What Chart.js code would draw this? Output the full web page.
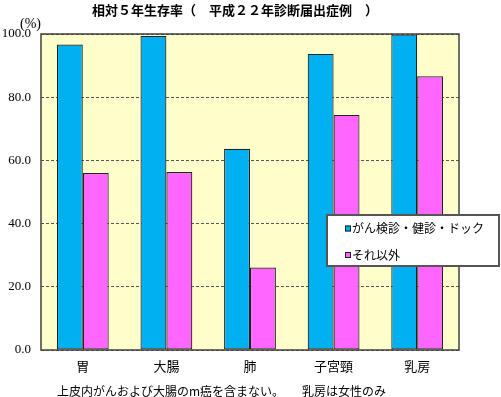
<!DOCTYPE html>
<html>
<head>
<meta charset="utf-8">
<script src="https://cdn.jsdelivr.net/npm/chart.js@4/dist/chart.umd.min.js"></script>
<style>
html,body{margin:0;padding:0;background:#fff;}
#wrap{width:501px;height:397px;position:relative;}
</style>
</head>
<body>
<div id="wrap"><canvas id="c" width="501" height="397"></canvas></div>
<script>
const categories = ['胃', '大腸', '肺', '子宮頸', '乳房'];
const screened = [96.7, 99.4, 63.7, 93.7, 99.8];
const others = [56.0, 56.3, 26.1, 74.4, 86.6];
const seriesNames = ['がん検診・健診・ドック', 'それ以外'];
const yTicks = [0, 20, 40, 60, 80, 100];
const titleText = '相対５年生存率（　平成２２年診断届出症例　）';
const noteText = '上皮内がんおよび大腸のm癌を含まない。　　乳房は女性のみ';
const unitText = '(%)';

const JP = '"Noto Sans CJK JP", "Noto Sans", sans-serif';
const SERIF = '"Liberation Serif", "DejaVu Serif", serif';

const decor = {
  id: 'decor',
  beforeDraw(chart) {
    const {ctx, chartArea: a} = chart;
    ctx.save();
    ctx.fillStyle = '#FFFFCC';
    ctx.fillRect(a.left, a.top, a.right - a.left, a.bottom - a.top);
    ctx.restore();
  },
  afterDatasetsDraw(chart) {
    const {ctx, chartArea: a} = chart;
    ctx.save();
    ctx.strokeStyle = '#404040';
    ctx.lineWidth = 1.5;
    ctx.strokeRect(a.left, a.top, a.right - a.left, a.bottom - a.top);
    ctx.restore();
  },
  afterDraw(chart) {
    const {ctx} = chart;
    ctx.save();
    ctx.fillStyle = '#000';
    ctx.font = 'bold 13px ' + JP;
    ctx.textAlign = 'center';
    ctx.textBaseline = 'middle';
    ctx.fillText(titleText, 235, 10);
    ctx.font = '14px ' + SERIF;
    ctx.textAlign = 'left';
    ctx.fillText(unitText, 20, 24);
    ctx.font = '12px ' + JP;
    ctx.fillText(noteText, 57, 391);
    const lx = 327, ly = 215, lw = 172, lh = 51;
    ctx.fillStyle = '#fff';
    ctx.fillRect(lx, ly, lw, lh);
    ctx.strokeStyle = '#555';
    ctx.lineWidth = 2;
    ctx.strokeRect(lx, ly, lw, lh);
    const ys = [228.5, 255];
    chart.data.datasets.forEach((ds, i) => {
      ctx.fillStyle = ds.backgroundColor;
      ctx.fillRect(345, ys[i] - 3, 6, 6);
      ctx.strokeStyle = '#222';
      ctx.lineWidth = 1;
      ctx.strokeRect(345.5, ys[i] - 2.5, 5, 5);
      ctx.fillStyle = '#000';
      ctx.font = '12px ' + JP;
      ctx.textAlign = 'left';
      ctx.textBaseline = 'middle';
      ctx.fillText(ds.label, 352, ys[i]);
    });
    ctx.restore();
  }
};

new Chart(document.getElementById('c'), {
  type: 'bar',
  data: {
    labels: categories,
    datasets: [
      {label: seriesNames[0], data: screened, backgroundColor: '#00B0F0', borderColor: '#222222', borderWidth: 1.2, borderSkipped: false},
      {label: seriesNames[1], data: others, backgroundColor: '#FF66FF', borderColor: '#222222', borderWidth: 1.2, borderSkipped: false}
    ]
  },
  options: {
    responsive: false,
    animation: false,
    devicePixelRatio: 1,
    layout: {padding: {top: 34, left: 0, right: 42, bottom: 0}},
    datasets: {bar: {categoryPercentage: 0.62, barPercentage: 1.0}},
    plugins: {legend: {display: false}, title: {display: false}, tooltip: {enabled: false}},
    scales: {
      x: {
        grid: {display: false, drawTicks: false},
        border: {display: false},
        ticks: {color: '#000', font: {family: JP, size: 13}, padding: 8, maxRotation: 0},
        afterFit(s) { s.height = 47; }
      },
      y: {
        min: 0, max: 100,
        afterBuildTicks(s) { s.ticks = yTicks.map(v => ({value: v})); },
        grid: {color: '#555', lineWidth: 1, drawTicks: false},
        border: {display: false, dash: [3, 2]},
        ticks: {color: '#000', font: {family: SERIF, size: 13}, padding: 10, callback: v => Number(v).toFixed(1)},
        afterFit(s) { s.width = 41; }
      }
    }
  },
  plugins: [decor]
});
</script>
</body>
</html>
